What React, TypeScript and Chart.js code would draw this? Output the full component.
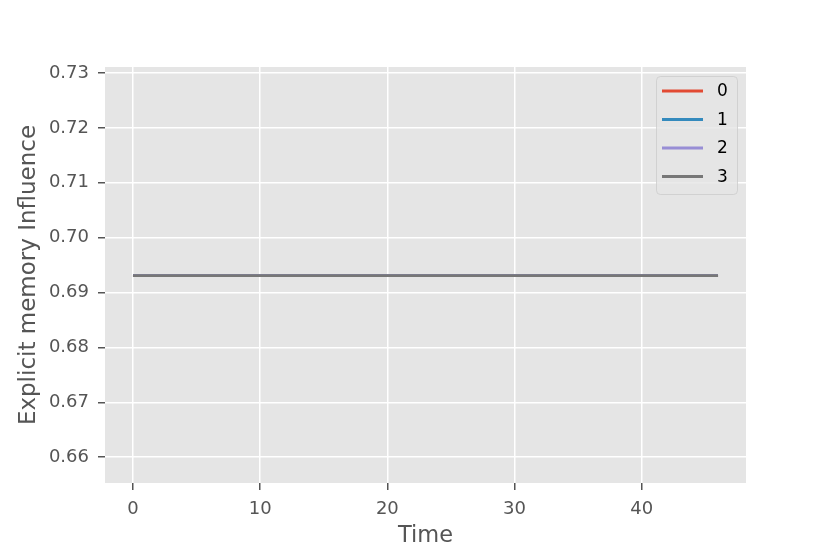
import React, { useEffect, useRef } from "react";
import { Chart, registerables } from "chart.js";

Chart.register(...registerables);

const timeSteps: number[] = Array.from({ length: 47 }, (_, i) => i);
const seriesNames = ["0", "1", "2", "3"];
const seriesColors = ["#E24A33", "#348ABD", "#988ED5", "#777777"];
const influence0: number[] = timeSteps.map(() => 0.6931);
const influence1: number[] = timeSteps.map(() => 0.6931);
const influence2: number[] = timeSteps.map(() => 0.6931);
const influence3: number[] = timeSteps.map(() => 0.6931);
const seriesValues = [influence0, influence1, influence2, influence3];
const xTicks = [0, 10, 20, 30, 40];
const yTicks = [0.66, 0.67, 0.68, 0.69, 0.7, 0.71, 0.72, 0.73];

const FONT = "'DejaVu Sans', sans-serif";

const bgPlugin = {
  id: "plotBg",
  beforeDraw(chart: any) {
    const { ctx, chartArea } = chart;
    ctx.save();
    ctx.fillStyle = "#E5E5E5";
    ctx.fillRect(chartArea.left, chartArea.top, chartArea.right - chartArea.left, chartArea.bottom - chartArea.top);
    ctx.restore();
  },
};

const legendPlugin = {
  id: "mplLegend",
  afterDatasetsDraw(chart: any) {
    const { ctx, chartArea } = chart;
    const w = 81;
    const h = 118;
    const x = chartArea.right - 90;
    const y = chartArea.top + 9;
    ctx.save();
    ctx.beginPath();
    ctx.roundRect(x + 0.5, y + 0.5, w, h, 4);
    ctx.fillStyle = "rgba(229,229,229,0.8)";
    ctx.fill();
    ctx.strokeStyle = "rgba(204,204,204,0.8)";
    ctx.lineWidth = 1;
    ctx.stroke();
    chart.data.datasets.forEach((ds: any, i: number) => {
      const ly = y + 15 + i * 28.5;
      ctx.beginPath();
      ctx.moveTo(x + 6, ly);
      ctx.lineTo(x + 47, ly);
      ctx.strokeStyle = ds.borderColor;
      ctx.lineWidth = 2.8;
      ctx.stroke();
      ctx.fillStyle = "#000000";
      ctx.font = `17px ${FONT}`;
      ctx.textBaseline = "middle";
      ctx.textAlign = "left";
      ctx.fillText(ds.label, x + 61, ly + 1);
    });
    ctx.restore();
  },
};

export default function App() {
  const ref = useRef<HTMLCanvasElement>(null);
  useEffect(() => {
    if (!ref.current) return;
    const n = seriesNames.length;
    const chart = new Chart(ref.current, {
      type: "line",
      data: {
        datasets: seriesValues.map((vals, i) => ({
          label: seriesNames[i],
          data: vals.map((v, j) => ({ x: timeSteps[j], y: v })),
          borderColor: seriesColors[i],
          backgroundColor: seriesColors[i],
          borderWidth: 2.8,
          pointRadius: 0,
          tension: 0,
          order: n - 1 - i,
        })),
      },
      options: {
        responsive: false,
        animation: false,
        layout: { padding: { left: 0, top: 67, right: 84, bottom: 0 } },
        plugins: { legend: { display: false }, tooltip: { enabled: false } },
        scales: {
          x: {
            type: "linear",
            min: -2.2,
            max: 48.2,
            afterBuildTicks: (s: any) => {
              s.ticks = xTicks.map((v) => ({ value: v }));
            },
            afterFit: (s: any) => {
              s.height = 71;
            },
            grid: { color: "#FFFFFF", lineWidth: 1.5, tickColor: "#555555", tickLength: 7, drawTicks: true },
            border: { display: false },
            ticks: { color: "#555555", font: { family: FONT, size: 18 }, padding: 9, maxRotation: 0 },
            title: { display: true, text: "Time", color: "#555555", font: { family: FONT, size: 22.5 }, padding: { top: 0, bottom: 4 } },
          },
          y: {
            type: "linear",
            min: 0.6553,
            max: 0.7311,
            afterBuildTicks: (s: any) => {
              s.ticks = yTicks.map((v) => ({ value: v }));
            },
            afterFit: (s: any) => {
              s.width = 105;
            },
            grid: { color: "#FFFFFF", lineWidth: 1.5, tickColor: "#555555", tickLength: 7 },
            border: { display: false },
            ticks: { color: "#555555", font: { family: FONT, size: 18 }, padding: 9, callback: (v: any) => Number(v).toFixed(2) },
            title: { display: true, text: "Explicit memory Influence", color: "#555555", font: { family: FONT, size: 23 }, padding: { top: 15, bottom: 0 } },
          },
        },
      },
      plugins: [bgPlugin, legendPlugin],
    });
    return () => chart.destroy();
  }, []);
  return (
    <div style={{ position: "fixed", left: 0, top: 0, width: 830, height: 554, background: "#FFFFFF" }}>
      <canvas ref={ref} width={830} height={554} style={{ width: 830, height: 554 }} />
    </div>
  );
}
